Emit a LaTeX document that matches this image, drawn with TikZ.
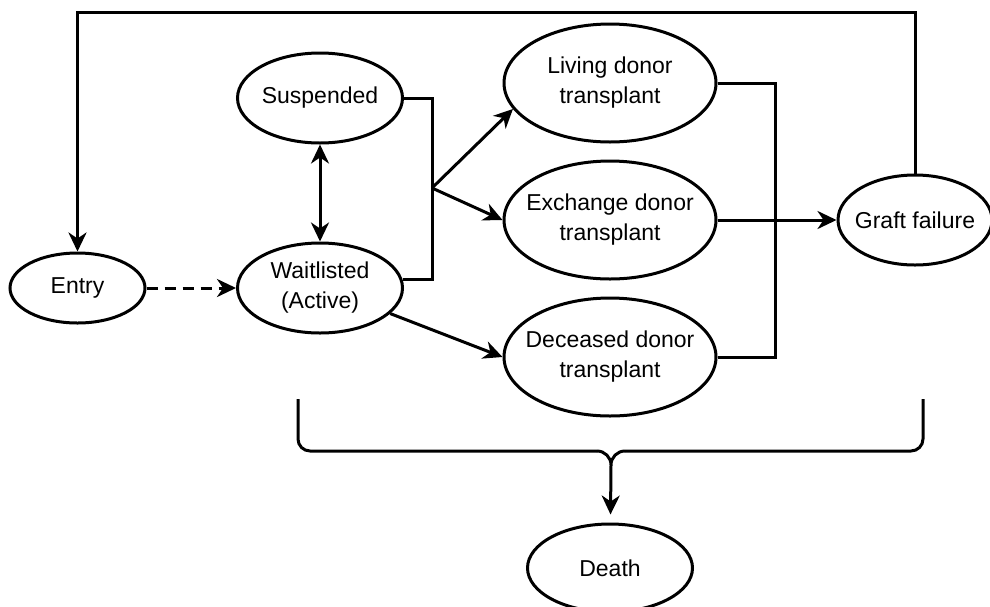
\documentclass[tikz,border=0pt]{standalone}
\usepackage{fontspec}
\setmainfont{Liberation Sans}
\usetikzlibrary{arrows.meta, positioning, shapes.geometric}

\begin{document}
\begin{tikzpicture}[
            x=0.5pt, y=-0.5pt,
            state/.style={ellipse, draw, line width=1.5pt, inner xsep=-8pt, inner ysep=0pt, align=center,
                          font=\fontsize{11.5}{15}\selectfont},
            line/.style={draw, line width=1.5pt},
            arr/.style={line, -{Stealth[length=9.5pt, width=9pt, inset=3pt]}},
            dashline/.style={dash pattern=on 5.5pt off 3.5pt}
        ]

            \useasboundingbox (0,0) rectangle (990,606);

            % Waiting list
            \node[state, minimum width=82.5pt, minimum height=45pt] (wait) at (320,288) {Waitlisted\\(Active)};
            \node[state, minimum width=82.5pt, minimum height=45pt, above=48.5pt of wait] (susp) {Suspended};
            \node[state, minimum width=67.5pt, minimum height=35pt, left=44.75pt of wait] (entry) {Entry};

            % Transplants
            \node[state, minimum width=106pt, minimum height=59pt] (exch) at (610,220) {Exchange donor\\transplant};
            \node[state, minimum width=106pt, minimum height=59pt, above=8pt of exch] (living) {Living donor\\transplant};
            \node[state, minimum width=106pt, minimum height=59pt, below=8pt of exch] (dec) {Deceased donor\\transplant};

            % Outcomes
            \node[state, minimum width=77pt, minimum height=45pt, right=59.5pt of exch] (graft) {Graft failure};
            \node[state, minimum width=82.5pt, minimum height=44pt, below=52.5pt of dec] (death) {Death};

            % Joints
            \coordinate (junc) at (432,188);
            \coordinate (rbar) at (775,220);
            \coordinate (top) at (500,12);
            \coordinate (bl) at (298,399);
            \coordinate (br) at (923,399);
            \coordinate (bracel) at (597,451);
            \coordinate (bracer) at (625,451);
            \coordinate (cusp) at (611,465);

            % Entry and list moves
            \draw[arr, dashline] (entry) -- (wait);
            \draw[line, {Stealth[length=9.5pt, width=9pt, inset=3pt]}-{Stealth[length=9.5pt, width=9pt, inset=3pt]}] (susp) -- (wait);
            \draw[line] (susp.east) -| (junc) |- (wait.6);

            % To transplant
            \draw[arr] (junc) -- (living.195);
            \draw[arr] (junc) -- (exch.west);
            \draw[arr] (wait.340) -- (dec.west);

            % To graft failure and back to entry
            \draw[line] (living.east) -| (rbar) |- (dec.east);
            \draw[arr] (exch) -- (graft);
            \draw[arr] (graft.north) |- (top) -| (entry.north);

            % Brace to death
            \draw[line, rounded corners=6pt] (bl) |- (bracel);
            \draw[line, rounded corners=6pt] (br) |- (bracer);
            \draw[line] (bracel) to[out=0, in=90] (cusp) to[out=90, in=180] (bracer);
            \draw[arr, shorten >=4pt] (cusp) -- (death);

        \end{tikzpicture}
\end{document}
